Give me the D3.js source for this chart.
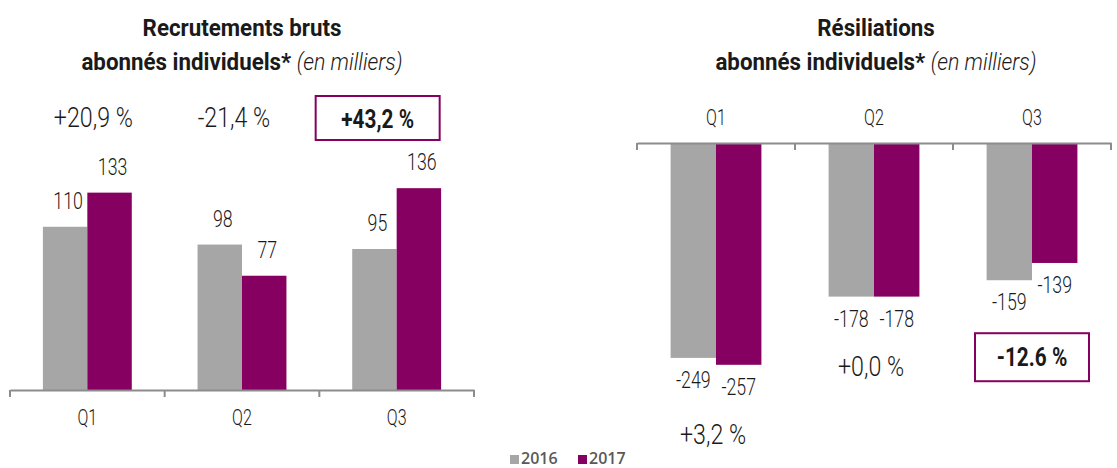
<!DOCTYPE html>
<html>
<head>
<meta charset="utf-8">
<script src="https://cdn.jsdelivr.net/npm/d3@7"></script>
<style>
  body { margin: 0; background: #fff; }
  svg { display: block; }
  text { font-family: "Roboto", "Liberation Sans", sans-serif; fill: #1a1a1a; }
</style>
</head>
<body>
<svg width="1117" height="468"></svg>
<script>
const categories = ["Q1", "Q2", "Q3"];
const years = ["2016", "2017"];

const recrut2016 = [110, 98, 95];
const recrut2017 = [133, 77, 136];
const recrutPct = ["+20,9 %", "-21,4 %", "+43,2 %"];

const resil2016 = [-249, -178, -159];
const resil2017 = [-257, -178, -139];
const resilPct = ["+3,2 %", "+0,0 %", "-12.6 %"];

const highlight = 2; // trimestre encadré

const svg = d3.select("svg");
const color = d3.scaleOrdinal().domain(years).range(["#a6a6a6", "#850060"]);
const purple = "#850060";

// texte "condensé" : police normale compressée horizontalement
function ctext(parent, x, y, sx, size, weight) {
  return parent.append("text")
    .attr("transform", `translate(${x},${y}) scale(${sx},1)`)
    .attr("text-anchor", "middle")
    .style("font-size", size + "px")
    .style("font-weight", weight || 300);
}

function title(parent, cx, line1) {
  ctext(parent, cx, 36, 0.93, 24, "bold").text(line1);
  const t = ctext(parent, cx, 70, 0.93, 24, "bold");
  t.append("tspan").text("abonnés individuels* ");
  t.append("tspan").style("font-style", "italic").style("font-weight", 300)
    .style("font-size", "23px").text("(en milliers)");
}

// ---------- graphique de gauche : recrutements ----------
const xL = d3.scaleBand().domain(categories).range([10, 474]);
const x1L = d3.scaleBand().domain(years).range([0, xL.bandwidth()]).paddingOuter(0.74);
const yL = d3.scaleLinear().domain([0, 100]).range([390, 390 - 148.4]);

const left = svg.append("g");
title(left, 242, "Recrutements bruts");

const rowsL = categories.map((c, i) => ({ cat: c, vals: [recrut2016[i], recrut2017[i]] }));

const gL = left.selectAll(".grp").data(rowsL).enter().append("g")
  .attr("transform", d => `translate(${xL(d.cat)},0)`);

gL.selectAll("rect").data(d => d.vals.map((v, k) => ({ year: years[k], v }))).enter()
  .append("rect")
  .attr("x", d => x1L(d.year))
  .attr("width", x1L.bandwidth())
  .attr("y", d => yL(d.v))
  .attr("height", d => yL(0) - yL(d.v))
  .attr("fill", d => color(d.year));

gL.each(function (d) {
  d.vals.forEach((v, k) => {
    ctext(d3.select(this), x1L(years[k]) + x1L.bandwidth() / 2 + 3, yL(v) - 18, 0.74, 24).text(v);
  });
});

// pourcentages au-dessus
const pctDxL = [6, -8, -19];
categories.forEach((c, i) => {
  const cx = xL(c) + xL.bandwidth() / 2 + pctDxL[i];
  if (i === highlight) {
    left.append("rect").attr("x", cx - 62).attr("y", 96).attr("width", 124).attr("height", 44)
      .attr("fill", "none").attr("stroke", purple).attr("stroke-width", 2);
    ctext(left, cx, 128, 0.8, 26, "bold").text(recrutPct[i]);
  } else {
    ctext(left, cx, 127, 0.86, 27).text(recrutPct[i]);
  }
});

// axe
const axL = left.append("g").attr("transform", "translate(0,390)")
  .call(d3.axisBottom(xL).tickSize(0).tickPadding(19));
axL.select(".domain").attr("stroke", "#8c8c8c").attr("stroke-width", 2);
axL.selectAll(".tick text").style("font-size", "22px").style("font-weight", 300)
  .attr("fill", "#1a1a1a").attr("transform", "scale(0.73,1)");
left.selectAll(".edgeL").data(categories.map(c => xL(c)).concat([xL.range()[1]])).enter()
  .append("line").attr("x1", d => d).attr("x2", d => d).attr("y1", 390).attr("y2", 397)
  .attr("stroke", "#8c8c8c").attr("stroke-width", 2);

// ---------- graphique de droite : résiliations ----------
const xR = d3.scaleBand().domain(categories).range([637, 1111]);
const x1R = d3.scaleBand().domain(years).range([0, xR.bandwidth()]).paddingOuter(0.74);
const yR = d3.scaleLinear().domain([0, -100]).range([143, 143 + 86.3]);

const right = svg.append("g");
title(right, 876, "Résiliations");

const rowsR = categories.map((c, i) => ({ cat: c, vals: [resil2016[i], resil2017[i]] }));

const gR = right.selectAll(".grp").data(rowsR).enter().append("g")
  .attr("transform", d => `translate(${xR(d.cat)},0)`);

gR.selectAll("rect").data(d => d.vals.map((v, k) => ({ year: years[k], v }))).enter()
  .append("rect")
  .attr("x", d => x1R(d.year))
  .attr("width", x1R.bandwidth())
  .attr("y", yR(0))
  .attr("height", d => yR(d.v) - yR(0))
  .attr("fill", d => color(d.year));

gR.each(function (d) {
  d.vals.forEach((v, k) => {
    ctext(d3.select(this), x1R(years[k]) + x1R.bandwidth() / 2, yR(v) + 30, 0.74, 24).text(v);
  });
});

categories.forEach((c, i) => {
  const cx = xR(c) + xR.bandwidth() / 2;
  const bottom = yR(Math.min(resil2016[i], resil2017[i]));
  if (i === highlight) {
    right.append("rect").attr("x", cx - 57).attr("y", bottom + 53).attr("width", 114).attr("height", 48)
      .attr("fill", "none").attr("stroke", purple).attr("stroke-width", 2);
    ctext(right, cx, bottom + 86, 0.8, 26, "bold").text(resilPct[i]);
  } else {
    ctext(right, cx - 3, bottom + 79, 0.86, 27).text(resilPct[i]);
  }
});

const axR = right.append("g").attr("transform", "translate(0,143)")
  .call(d3.axisTop(xR).tickSize(0).tickPadding(18));
axR.select(".domain").attr("stroke", "#8c8c8c").attr("stroke-width", 2);
axR.selectAll(".tick text").style("font-size", "22px").style("font-weight", 300)
  .attr("fill", "#1a1a1a").attr("transform", "scale(0.73,1)");
right.selectAll(".edgeR").data(categories.map(c => xR(c)).concat([xR.range()[1]])).enter()
  .append("line").attr("x1", d => d).attr("x2", d => d).attr("y1", 143).attr("y2", 150)
  .attr("stroke", "#8c8c8c").attr("stroke-width", 2);

// ---------- légende ----------
const legend = svg.append("g").attr("transform", "translate(510,459)");
const lx = [0, 68];
years.forEach((yr, k) => {
  legend.append("rect").attr("x", lx[k]).attr("y", -4).attr("width", 9).attr("height", 9)
    .attr("fill", color(yr));
  legend.append("text").attr("x", lx[k] + 11).attr("y", 5)
    .style("font-family", "'Open Sans', sans-serif").style("font-size", "16px")
    .style("font-weight", "600").style("fill", "#595959").text(yr);
});
</script>
</body>
</html>
